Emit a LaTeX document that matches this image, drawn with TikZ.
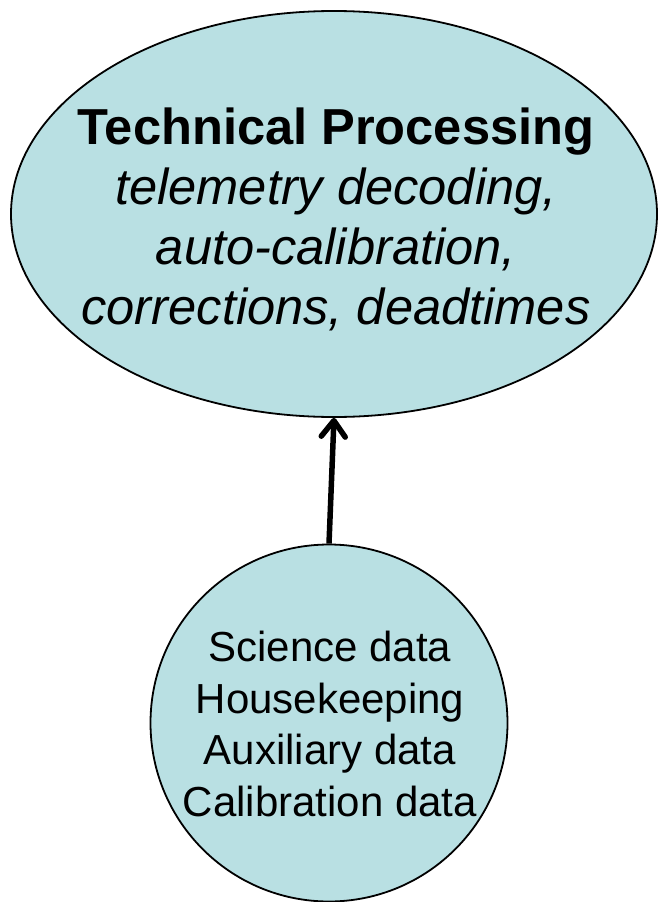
\documentclass[tikz,border=0pt]{standalone}
\usepackage{fontspec}
\setmainfont{Liberation Sans}
\usetikzlibrary{shapes.geometric,arrows.meta}
\definecolor{paleteal}{RGB}{185,224,227}
\tikzset{
  bubble/.style={draw=black, line width=1.8pt, fill=paleteal, inner sep=0pt},
  caption/.style={inner sep=0pt, align=center},
  flow/.style={line width=5.5pt, -{Straight Barb[length=16pt, width=24pt, round]}},
}
\begin{document}
\begin{tikzpicture}[x=1pt, y=-1pt]
  \useasboundingbox (0,0) rectangle (658,902);
  % processing stage
  \node[bubble, ellipse, minimum width=646pt, minimum height=406pt]
    (proc) at (334,214) {};
  \node[caption, font={\fontsize{50.6pt}{60pt}\selectfont}]
    (proctext) at (336,219) {\textbf{Technical Processing}\\
      \textit{telemetry decoding,}\\
      \textit{auto-calibration,}\\
      \textit{corrections, deadtimes}};
  % input data
  \node[bubble, circle, minimum size=357pt] (inputs) at (329,723) {};
  \node[caption, font={\fontsize{42pt}{51.7pt}\selectfont}]
    (inputtext) at (330,724) {Science data\\Housekeeping\\Auxiliary data\\Calibration data};
  \draw[flow] (inputs.north) -- (proc.south);
\end{tikzpicture}
\end{document}
